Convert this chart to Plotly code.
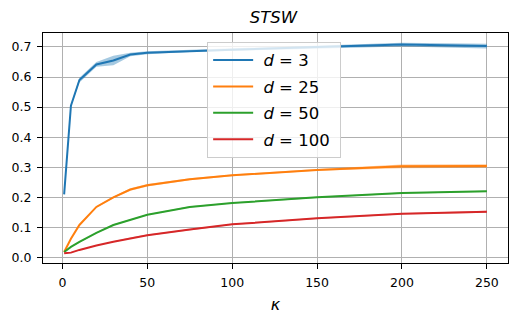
import plotly.graph_objects as go

kappa = [1, 5, 10, 20, 30, 40, 50, 75, 100, 150, 200, 250]

d3_mean = [0.21, 0.505, 0.59, 0.642, 0.655, 0.675, 0.681, 0.687, 0.691, 0.700, 0.708, 0.703]
d3_std = [0.004, 0.004, 0.008, 0.008, 0.016, 0.006, 0.005, 0.004, 0.004, 0.005, 0.006, 0.008]
d25_mean = [0.018, 0.062, 0.108, 0.168, 0.200, 0.226, 0.240, 0.260, 0.273, 0.291, 0.303, 0.304]
d25_std = [0.002, 0.002, 0.002, 0.003, 0.003, 0.004, 0.004, 0.003, 0.003, 0.003, 0.006, 0.006]
d50_mean = [0.018, 0.035, 0.052, 0.082, 0.108, 0.126, 0.142, 0.168, 0.181, 0.200, 0.214, 0.220]
d50_std = [0.001, 0.001, 0.001, 0.002, 0.002, 0.002, 0.002, 0.002, 0.002, 0.002, 0.002, 0.002]
d100_mean = [0.014, 0.016, 0.025, 0.040, 0.052, 0.064, 0.074, 0.093, 0.110, 0.130, 0.145, 0.152]
d100_std = [0.001, 0.001, 0.001, 0.001, 0.002, 0.002, 0.002, 0.002, 0.002, 0.002, 0.002, 0.003]

labels = ["\u00a0<i>d</i> = 3", "\u00a0<i>d</i> = 25", "\u00a0<i>d</i> = 50", "\u00a0<i>d</i> = 100\u00a0"]
colors = ["#1f77b4", "#ff7f0e", "#2ca02c", "#d62728"]
fills = ["rgba(31,119,180,0.4)", "rgba(255,127,14,0.4)", "rgba(44,160,44,0.4)", "rgba(214,39,40,0.4)"]
series = [(d3_mean, d3_std), (d25_mean, d25_std), (d50_mean, d50_std), (d100_mean, d100_std)]

fig = go.Figure()
for i, ((m, s), lab, c, f) in enumerate(zip(series, labels, colors, fills)):
    upper = [a + b for a, b in zip(m, s)]
    lower = [a - b for a, b in zip(m, s)]
    fig.add_trace(go.Scatter(x=kappa + kappa[::-1], y=upper + lower[::-1], fill="toself",
                             fillcolor=f, line=dict(width=0), mode="lines",
                             showlegend=False, hoverinfo="skip"))
    fig.add_trace(go.Scatter(x=kappa, y=m, mode="lines", name=lab,
                             line=dict(color=c, width=2), legendgroup=f"g{i}"))

axis_common = dict(showline=True, linecolor="black", linewidth=1, mirror=True,
                   ticks="outside", ticklen=5, tickcolor="black", automargin=False,
                   showgrid=True, gridcolor="#b0b0b0", gridwidth=1, zeroline=False,
                   tickfont=dict(family="DejaVu Sans", size=12.5, color="black"))

fig.update_layout(
    width=516, height=320,
    margin=dict(l=43, r=8, t=33, b=57),
    paper_bgcolor="white", plot_bgcolor="white",
    title=dict(text="<i>STSW</i>", x=0.53, xanchor="center", y=0.945, yanchor="middle",
               font=dict(family="DejaVu Sans", size=16.5, color="black")),
    xaxis=dict(range=[-11.45, 262.45], tickvals=[0, 50, 100, 150, 200, 250],
               ticklabelstandoff=3,
               title=dict(text="<i>κ</i>", font=dict(family="DejaVu Sans", size=16, color="black"),
                          standoff=9),
               **axis_common),
    yaxis=dict(range=[-0.0185, 0.7465], tickvals=[0, 0.1, 0.2, 0.3, 0.4, 0.5, 0.6, 0.7],
               tickformat=".1f", ticklabelstandoff=3, **axis_common),
    legend=dict(x=0.353, y=0.962, xanchor="left", yanchor="top",
                bgcolor="rgba(255,255,255,0.8)", bordercolor="#cccccc", borderwidth=1,
                font=dict(family="DejaVu Sans", size=16.5, color="black"),
                tracegroupgap=2, itemwidth=40),
    showlegend=True,
)

fig.write_html("out.html", config={"displayModeBar": False},
               post_script="document.body.style.margin='0';document.body.style.overflow='hidden';")
